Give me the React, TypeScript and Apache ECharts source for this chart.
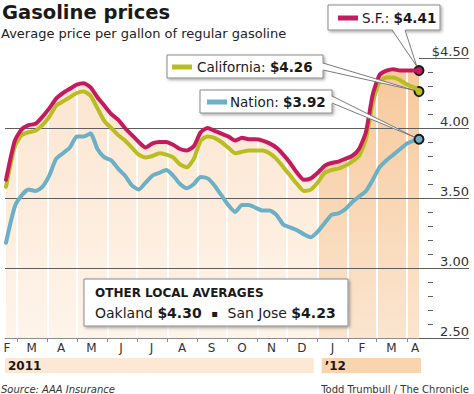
import React, { useEffect, useRef } from "react";
import * as echarts from "echarts";

// ---- data ----
const dates = [
  "2011-02-18", "2011-02-27", "2011-03-06", "2011-03-13", "2011-03-20", "2011-03-27",
  "2011-04-03", "2011-04-10", "2011-04-17", "2011-04-24", "2011-05-01", "2011-05-08",
  "2011-05-15", "2011-05-22", "2011-05-29", "2011-06-05", "2011-06-12", "2011-06-19",
  "2011-06-26", "2011-07-03", "2011-07-10", "2011-07-17", "2011-07-24", "2011-07-31",
  "2011-08-07", "2011-08-14", "2011-08-21", "2011-08-28", "2011-09-04", "2011-09-11",
  "2011-09-18", "2011-09-25", "2011-10-02", "2011-10-09", "2011-10-16", "2011-10-23",
  "2011-10-30", "2011-11-06", "2011-11-13", "2011-11-20", "2011-11-27", "2011-12-04",
  "2011-12-11", "2011-12-18", "2011-12-25", "2012-01-01", "2012-01-08", "2012-01-15",
  "2012-01-22", "2012-01-29", "2012-02-05", "2012-02-12", "2012-02-19", "2012-02-26",
  "2012-03-04", "2012-03-11", "2012-03-18", "2012-03-25", "2012-04-01", "2012-04-08",
  "2012-04-13",
];
const sfPrices = [
  3.63, 3.91, 3.99, 4.02, 4.03, 4.08, 4.14, 4.21, 4.25, 4.28,
  4.31, 4.32, 4.29, 4.22, 4.16, 4.10, 4.06, 4.00, 3.95, 3.90,
  3.86, 3.89, 3.90, 3.90, 3.88, 3.85, 3.84, 3.87, 3.97, 4.00,
  3.98, 3.96, 3.94, 3.91, 3.93, 3.92, 3.92, 3.91, 3.89, 3.86,
  3.81, 3.75, 3.68, 3.63, 3.64, 3.68, 3.73, 3.75, 3.76, 3.78,
  3.80, 3.85, 3.97, 4.24, 4.38, 4.41, 4.42, 4.41, 4.41, 4.41, 4.41,
];
const caPrices = [
  3.58, 3.87, 3.95, 3.97, 3.98, 4.02, 4.08, 4.16, 4.19, 4.22,
  4.25, 4.26, 4.23, 4.14, 4.05, 4.00, 3.95, 3.91, 3.86, 3.81,
  3.79, 3.80, 3.82, 3.81, 3.79, 3.74, 3.72, 3.78, 3.91, 3.94,
  3.93, 3.90, 3.86, 3.82, 3.83, 3.84, 3.84, 3.84, 3.82, 3.78,
  3.72, 3.66, 3.60, 3.55, 3.56, 3.61, 3.68, 3.70, 3.71, 3.73,
  3.76, 3.80, 3.92, 4.18, 4.33, 4.36, 4.36, 4.34, 4.31, 4.29, 4.26,
];
const nationPrices = [
  3.18, 3.44, 3.52, 3.56, 3.55, 3.58, 3.66, 3.78, 3.82, 3.86,
  3.94, 3.94, 3.96, 3.85, 3.79, 3.77, 3.71, 3.66, 3.59, 3.56,
  3.61, 3.66, 3.68, 3.70, 3.66, 3.60, 3.57, 3.60, 3.65, 3.64,
  3.59, 3.52, 3.45, 3.40, 3.45, 3.45, 3.43, 3.41, 3.41, 3.38,
  3.31, 3.29, 3.27, 3.24, 3.22, 3.26, 3.32, 3.38, 3.39, 3.42,
  3.47, 3.51, 3.55, 3.63, 3.72, 3.77, 3.81, 3.85, 3.89, 3.91, 3.92,
];
const monthStarts = [
  "2011-03-01", "2011-04-01", "2011-05-01", "2011-06-01", "2011-07-01", "2011-08-01",
  "2011-09-01", "2011-10-01", "2011-11-01", "2011-12-01", "2012-01-01", "2012-02-01",
  "2012-03-01", "2012-04-01",
];
const monthLabelDates = [
  "2011-02-19", "2011-03-16", "2011-04-15", "2011-05-16", "2011-06-15", "2011-07-16",
  "2011-08-16", "2011-09-15", "2011-10-16", "2011-11-15", "2011-12-16", "2012-01-16",
  "2012-02-15", "2012-03-16", "2012-04-09",
];
const monthLabels = ["F", "M", "A", "M", "J", "J", "A", "S", "O", "N", "D", "J", "F", "M", "A"];
const yMin = 2.5;
const yMax = 4.5;
const yStep = 0.5;
const seriesNames = ["S.F.", "California", "Nation"];
const yearLabels = ["2011", "\u201912"];
const yearBoundary = "2012-01-01";
const localNames = ["Oakland", "San Jose"];
const localPrices = [4.30, 4.23];

const FONT = "'DejaVu Sans', sans-serif";
const C_SF = "#c41a5f";
const C_CA = "#b8be22";
const C_NAT = "#6cb0c5";
const C_GRID = "#5e5e5e";

const ORIGIN = Date.UTC(2011, 2, 1);
function dayOf(s: string) {
  const [y, m, d] = s.split("-").map(Number);
  return Math.round((Date.UTC(y, m - 1, d) - ORIGIN) / 86400000);
}

export default function App() {
  const ref = useRef<HTMLDivElement>(null);
  useEffect(() => {
    const chart = echarts.init(ref.current!, null, { renderer: "svg" });
    const xs = dates.map(dayOf);
    const pairs = (v: number[]) => xs.map((x, i) => [x, v[i]]);
    const sfPairs = pairs(sfPrices);
    const cut = dates.indexOf(yearBoundary);
    const last = xs.length - 1;
    const labelDays = monthLabelDates.map(dayOf);
    const SMOOTH = 0.2;

    const fillSeries = (data: number[][], top: string, bottom: string) => ({
      type: "line",
      data,
      symbol: "none",
      smooth: SMOOTH,
      z: 1,
      silent: true,
      lineStyle: { width: 0, opacity: 0 },
      areaStyle: {
        opacity: 1,
        color: new echarts.graphic.LinearGradient(0, 0, 0, 1, [
          { offset: 0, color: top },
          { offset: 1, color: bottom },
        ]),
      },
    });
    const lineSeries = (name: string, vals: number[], color: string, z: number) => ({
      type: "line",
      name,
      data: pairs(vals),
      symbol: "none",
      smooth: SMOOTH,
      z,
      lineStyle: { color, width: 4, cap: "round", join: "round" },
      markPoint: {
        symbol: "circle",
        symbolSize: 9,
        silent: true,
        label: { show: false },
        itemStyle: { color, borderColor: "#1b1b1b", borderWidth: 2 },
        data: [{ coord: [xs[last], vals[last]] }],
      },
    });

    chart.setOption({
      animation: false,
      grid: { left: 5, right: 55, top: 58, bottom: 56, containLabel: false, outerBoundsMode: "none" },
      xAxis: {
        type: "value",
        min: -12,
        max: 409,
        z: 2,
        axisLine: { show: true, onZero: false, lineStyle: { color: "#8c8c8c", width: 1 } },
        axisTick: {
          show: true,
          customValues: monthStarts.map(dayOf),
          length: 4,
          lineStyle: { color: "#8c8c8c" },
        },
        axisLabel: {
          show: true,
          customValues: labelDays,
          formatter: (v: number) => {
            const i = labelDays.indexOf(v);
            return i >= 0 ? monthLabels[i] : "";
          },
          margin: 4,
          fontFamily: FONT,
          fontSize: 12,
          color: "#333",
        },
        splitLine: { show: true, lineStyle: { color: "#ffffff", width: 2 } },
      },
      yAxis: [
        {
          type: "value",
          position: "right",
          min: yMin,
          max: yMax,
          interval: yStep,
          z: 3,
          axisLine: { show: false, onZero: false },
          axisTick: { show: true, length: 50, lineStyle: { color: C_GRID, width: 1 } },
          axisLabel: {
            margin: 50,
            align: "right",
            verticalAlign: "bottom",
            fontFamily: FONT,
            fontSize: 13,
            color: "#333",
            formatter: (v: number) => (v === yMax ? "$" + v.toFixed(2) : v.toFixed(2)),
          },
          splitLine: {
            show: true,
            showMinLine: false,
            showMaxLine: false,
            lineStyle: { color: C_GRID, width: 1 },
          },
        },
        {
          type: "value",
          position: "right",
          offset: 9,
          min: yMin,
          max: yMax,
          interval: yStep,
          z: 3,
          axisLine: { show: false, onZero: false },
          axisTick: { show: false },
          axisLabel: { show: false },
          splitLine: { show: false },
          minorTick: { show: true, splitNumber: 5, length: 5, lineStyle: { color: C_GRID, width: 1 } },
        },
      ],
      series: [
        fillSeries(sfPairs.slice(0, cut + 1), "#fce5d0", "#fef4ea"),
        fillSeries(sfPairs.slice(cut), "#f7c99c", "#fbe5cf"),
        lineSeries(seriesNames[2], nationPrices, C_NAT, 4),
        lineSeries(seriesNames[1], caPrices, C_CA, 5),
        lineSeries(seriesNames[0], sfPrices, C_SF, 6),
      ],
    });

    const px = (d: number, v: number) =>
      chart.convertToPixel({ xAxisIndex: 0, yAxisIndex: 0 }, [d, v]) as number[];
    const dotSF = px(xs[last], sfPrices[last]);
    const dotCA = px(xs[last], caPrices[last]);
    const dotNat = px(xs[last], nationPrices[last]);
    const xBoundary = px(dayOf(yearBoundary), yMin)[0];
    const xStart = px(-12, yMin)[0];
    const xEnd = px(409, yMin)[0];

    const shadow = {
      shadowBlur: 3,
      shadowOffsetX: 1.5,
      shadowOffsetY: 1.5,
      shadowColor: "rgba(0,0,0,0.35)",
    };
    const box = (x: number, y: number, w: number, h: number) => ({
      type: "rect",
      z: 20,
      shape: { x, y, width: w, height: h },
      style: { fill: "#fff", stroke: "#8a8a8a", lineWidth: 1, ...shadow },
    });
    const wedge = (p1: number[], p2: number[], dot: number[], inset: number[]) => {
      const cx = (p1[0] + p2[0]) / 2;
      const cy = (p1[1] + p2[1]) / 2;
      const dx = dot[0] - cx;
      const dy = dot[1] - cy;
      const len = Math.hypot(dx, dy);
      const tip = [dot[0] - (dx / len) * 5, dot[1] - (dy / len) * 5];
      return [
        {
          type: "polygon",
          z: 21,
          shape: { points: [[p1[0] + inset[0], p1[1] + inset[1]], [p2[0] + inset[0], p2[1] + inset[1]], tip] },
          style: { fill: "#fff" },
        },
        { type: "polyline", z: 22, shape: { points: [p1, tip] }, style: { stroke: "#7a7a7a", lineWidth: 1, fill: null } },
        { type: "polyline", z: 22, shape: { points: [p2, tip] }, style: { stroke: "#7a7a7a", lineWidth: 1, fill: null } },
      ];
    };
    const marker = (x: number, y: number, color: string) => ({
      type: "line",
      z: 23,
      shape: { x1: x, y1: y, x2: x + 20, y2: y },
      style: { stroke: color, lineWidth: 5 },
    });
    const legendText = (x: number, y: number, name: string, val: number) => ({
      type: "text",
      z: 23,
      x,
      y,
      style: {
        text: name + ": {b|$" + val.toFixed(2) + "}",
        fontFamily: FONT,
        fontSize: 13.5,
        fill: "#1a1a1a",
        verticalAlign: "middle",
        rich: { b: { fontFamily: FONT, fontSize: 13.5, fontWeight: "bold", fill: "#1a1a1a" } },
      },
    });
    const plain = (x: number, y: number, text: string, extra: any = {}) => ({
      type: "text",
      z: 23,
      x,
      y,
      style: { text, fontFamily: FONT, fill: "#1a1a1a", verticalAlign: "middle", ...extra },
    });

    const graphic: any[] = [
      plain(2, 12, "Gasoline prices", { fontSize: 19.5, fontWeight: "bold" }),
      plain(1, 33, "Average price per gallon of regular gasoline", { fontSize: 13, fill: "#222" }),
      // S.F.
      box(328, 5, 112, 25),
      ...wedge([392, 30], [405, 30], dotSF, [0, -1.5]),
      marker(338, 18, C_SF),
      legendText(362, 18, seriesNames[0], sfPrices[last]),
      // California
      box(167, 55, 156, 23),
      ...wedge([323, 63], [323, 70], dotCA, [-1.5, 0]),
      marker(172, 67, C_CA),
      legendText(197, 67, seriesNames[1], caPrices[last]),
      // Nation
      box(200, 90, 132, 23),
      ...wedge([332, 96], [332, 103], dotNat, [-1.5, 0]),
      marker(207, 102, C_NAT),
      legendText(230, 102, seriesNames[2], nationPrices[last]),
      // other local averages
      box(84, 279, 264, 47),
      plain(95, 293, "OTHER LOCAL AVERAGES", { fontSize: 12, fontWeight: "bold" }),
      {
        type: "text",
        z: 23,
        x: 95,
        y: 313,
        style: {
          text:
            localNames[0] + " {b|$" + localPrices[0].toFixed(2) + "}{c|   \u25AA   }" +
            localNames[1] + " {b|$" + localPrices[1].toFixed(2) + "}",
          fontFamily: FONT,
          fontSize: 14,
          fill: "#1a1a1a",
          verticalAlign: "middle",
          rich: {
            b: { fontFamily: FONT, fontSize: 14, fontWeight: "bold", fill: "#1a1a1a" },
            c: { fontFamily: FONT, fontSize: 10, fill: "#1a1a1a" },
          },
        },
      },
      // year bands
      {
        type: "rect",
        z: 5,
        shape: { x: xStart, y: 358, width: xBoundary - 4 - xStart, height: 15 },
        style: { fill: "#fde8d6" },
      },
      {
        type: "rect",
        z: 5,
        shape: { x: xBoundary + 4, y: 358, width: xEnd + 2 - (xBoundary + 4), height: 15 },
        style: { fill: "#f9d4ae" },
      },
      plain(xStart + 3, 366, yearLabels[0], { fontSize: 12, fontWeight: "bold" }),
      plain(xBoundary + 7, 366, yearLabels[1], { fontSize: 12, fontWeight: "bold" }),
      plain(1, 389, "Source: AAA Insurance", { fontSize: 10, fontStyle: "italic", fill: "#333" }),
      plain(469, 389, "Todd Trumbull / The Chronicle", { fontSize: 10, fill: "#333", align: "right" }),
    ];
    chart.setOption({ graphic });

    return () => chart.dispose();
  }, []);
  return (
    <div
      ref={ref}
      style={{ position: "fixed", left: 0, top: 0, width: 474, height: 394, background: "#fff" }}
    />
  );
}
